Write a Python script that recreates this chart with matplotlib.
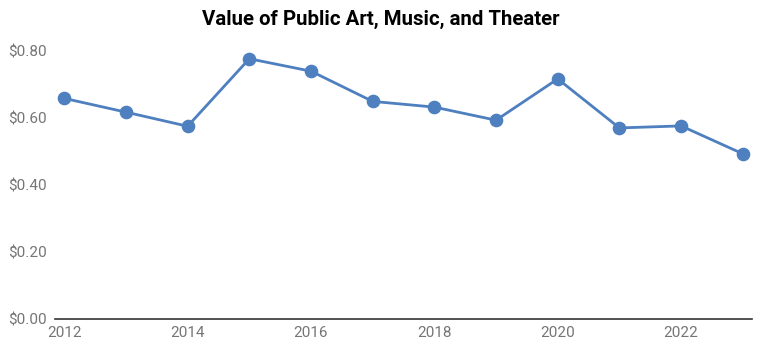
import matplotlib
matplotlib.use('Agg')
from matplotlib import pyplot as plt
from matplotlib.ticker import FuncFormatter

plt.rcParams['font.family'] = ['Roboto', 'DejaVu Sans']

# values
years = [2012, 2013, 2014, 2015, 2016, 2017, 2018, 2019, 2020, 2021, 2022, 2023]
value = [0.658, 0.617, 0.575, 0.776, 0.739, 0.649, 0.632, 0.593, 0.716, 0.570, 0.576, 0.493]
xticks = [2012, 2014, 2016, 2018, 2020, 2022]
yticks = [0.0, 0.2, 0.4, 0.6, 0.8]
title = 'Value of Public Art, Music, and Theater'

fig = plt.figure(figsize=(7.62, 3.47), dpi=100)
ax = fig.add_axes([0.0722, 0.0798, 0.9147, 0.7741])

ax.plot(years, value, color='#4e7fbf', linewidth=2, marker='o', markersize=8.8,
        clip_on=False, zorder=3)

ax.set_xlim(2011.85, 2023.15)
ax.set_ylim(0, 0.8)
ax.set_xticks(xticks)
ax.set_yticks(yticks)
ax.yaxis.set_major_formatter(FuncFormatter(lambda v, p: '${:.2f}'.format(v)))

for s in ['top', 'right', 'left']:
    ax.spines[s].set_visible(False)
ax.spines['bottom'].set_color('#333333')
ax.spines['bottom'].set_linewidth(1.2)

ax.tick_params(axis='both', length=0, labelsize=11, labelcolor='#757575')
ax.tick_params(axis='x', pad=5)
ax.tick_params(axis='y', pad=6)

fig.text(0.5, 0.945, title, ha='center', va='center', fontsize=14.7,
         fontweight='bold', color='black')

fig.savefig('out.png', dpi=100)
